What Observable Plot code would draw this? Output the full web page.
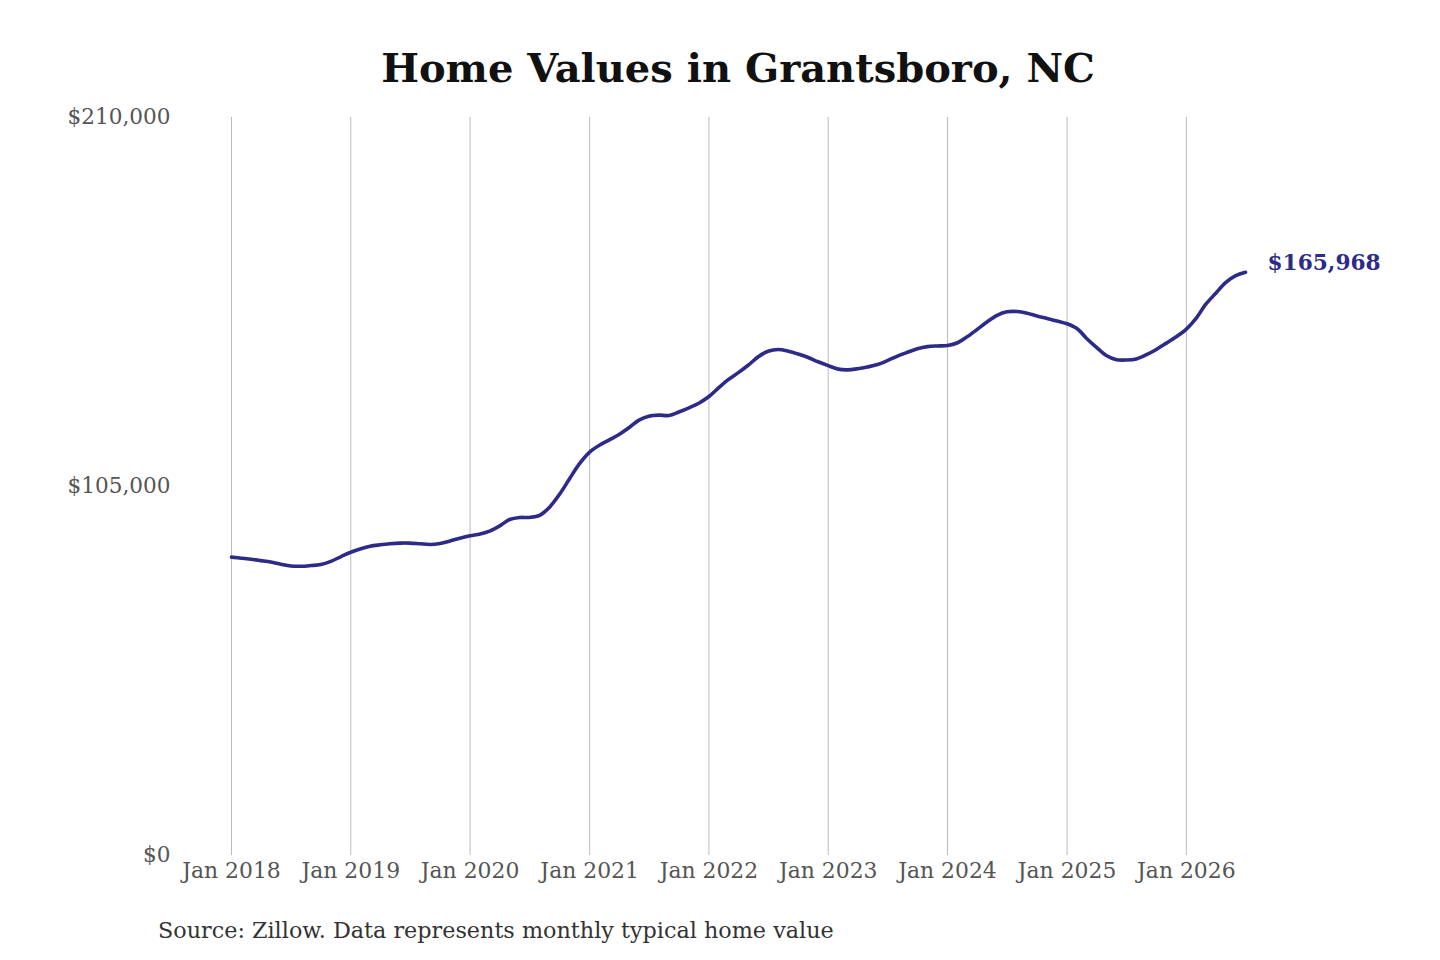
<!DOCTYPE html>
<html>
<head>
<meta charset="utf-8">
<script src="https://cdn.jsdelivr.net/npm/d3@7"></script>
<script src="https://cdn.jsdelivr.net/npm/@observablehq/plot@0.6"></script>
<style>
  html, body { margin: 0; padding: 0; background: #fff; }
  body { width: 1440px; height: 960px; position: relative; overflow: hidden; font-family: "DejaVu Serif", serif; }
  #title { position: absolute; left: 0; width: 1476px; top: 44px; text-align: center; font-size: 40px; font-weight: bold; color: #111; line-height: 48px; margin: 0; }
  #chart { position: absolute; left: 0; top: 100px; }
  #caption { position: absolute; left: 158px; top: 916px; font-size: 22.3px; color: #333; line-height: 28px; }
</style>
</head>
<body>
<h1 id="title">Home Values in Grantsboro, NC</h1>
<div id="chart"></div>
<div id="caption">Source: Zillow. Data represents monthly typical home value</div>
<script>
const startMonth = "2018-01";
const values = [
  // 2018
  84900, 84600, 84300, 83900, 83500, 82900, 82400, 82300, 82500, 82800, 83700, 85000,
  // 2019
  86300, 87300, 88000, 88400, 88700, 88900, 88900, 88700, 88500, 88800, 89500, 90300,
  // 2020
  91000, 91500, 92300, 93800, 95600, 96200, 96200, 96800, 99200, 102800, 107300, 111500,
  // 2021
  114800, 116800, 118200, 119800, 121700, 123900, 125000, 125300, 125200, 126200, 127400, 128700,
  // 2022
  130600, 133200, 135400, 137400, 139500, 141900, 143500, 144000, 143500, 142700, 141700, 140500,
  // 2023
  139400, 138400, 138200, 138500, 139000, 139700, 140800, 142100, 143200, 144200, 144800, 145000,
  // 2024
  145100, 145900, 147600, 149700, 151800, 153700, 154700, 154800, 154300, 153500, 152800, 152100,
  // 2025
  151300, 149900, 147200, 144600, 142300, 141100, 141000, 141300, 142500, 144000, 145800, 147600,
  // 2026
  149800, 153000, 156800, 160000, 163000, 165000, 165968
];
const yTicks = [0, 105000, 210000];
const lineColor = "#2d2a88";

const start = new Date(startMonth + "-01T00:00:00Z");
const data = values.map((v, i) => ({ date: d3.utcMonth.offset(start, i), value: v }));
const last = data[data.length - 1];
const xTicks = d3.utcYear.range(start, d3.utcMonth.offset(last.date, 1));

const chart = Plot.plot({
  width: 1440,
  height: 800,
  marginTop: 17,
  marginBottom: 45,
  marginLeft: 231,
  marginRight: 195,
  style: { fontFamily: "DejaVu Serif, serif", fontSize: "20px", color: "#555", background: "#fff" },
  x: { type: "utc", domain: [start, last.date], label: null },
  y: { domain: [0, 210000], label: null },
  marks: [
    Plot.gridX(xTicks, { stroke: "#bbb", strokeOpacity: 1, strokeWidth: 1 }),
    Plot.axisX(xTicks, { tickSize: 0, tickPadding: 7, tickFormat: d3.utcFormat("Jan %Y"), fontSize: 21.9, fill: "#555", label: null }),
    Plot.axisY(yTicks, { tickSize: 0, tickPadding: 61, tickFormat: d => "$" + d3.format(",")(d), fontSize: 21.6, fill: "#555", label: null }),
    Plot.line(data, { x: "date", y: "value", stroke: lineColor, strokeWidth: 3.6, curve: "catmull-rom" }),
    Plot.text([last], { x: "date", y: "value", text: d => "$" + d3.format(",")(d.value), dx: 22, dy: -9, textAnchor: "start", fontWeight: "bold", fontSize: 21.7, fill: lineColor })
  ]
});
document.getElementById("chart").appendChild(chart);
</script>
</body>
</html>
